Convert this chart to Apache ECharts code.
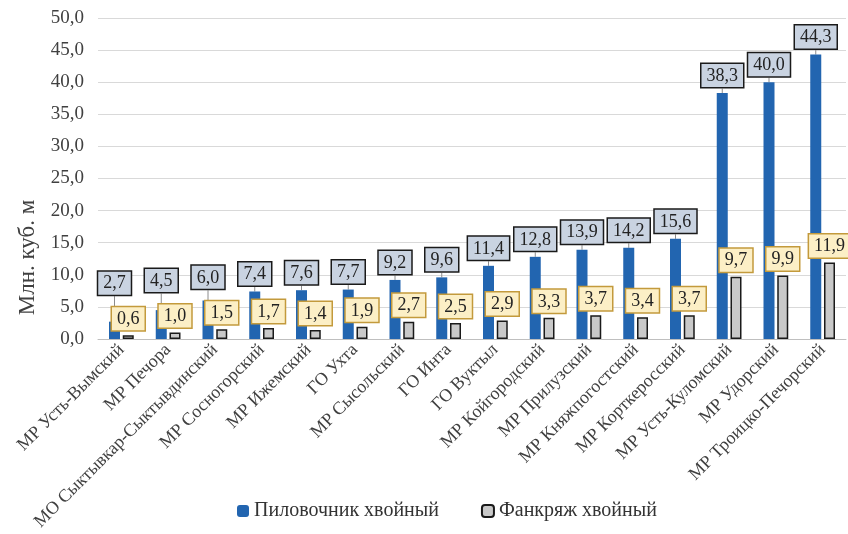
<!DOCTYPE html>
<html>
<head>
<meta charset="utf-8">
<script src="https://cdn.jsdelivr.net/npm/echarts@6/dist/echarts.min.js"></script>
<style>
  html, body { margin: 0; padding: 0; background: #fff; }
  #chart { width: 848px; height: 534px; }
</style>
</head>
<body>
<div id="chart"></div>
<script>
const categories = [
  'МР Усть-Вымский', 'МР Печора', 'МО Сыктывкар-Сыктывдинский', 'МР Сосногорский',
  'МР Ижемский', 'ГО Ухта', 'МР Сысольский', 'ГО Инта', 'ГО Вуктыл',
  'МР Койгородский', 'МР Прилузский', 'МР Княжпогостский', 'МР Корткеросский',
  'МР Усть-Куломский', 'МР Удорский', 'МР Троицко-Печорский'
]
const sawlogs = [2.7, 4.5, 6.0, 7.4, 7.6, 7.7, 9.2, 9.6, 11.4, 12.8, 13.9, 14.2, 15.6, 38.3, 40.0, 44.3]
const veneerLogs = [0.6, 1.0, 1.5, 1.7, 1.4, 1.9, 2.7, 2.5, 2.9, 3.3, 3.7, 3.4, 3.7, 9.7, 9.9, 11.9]

const font = "'Liberation Serif', 'Times New Roman', serif"
const fmt = (p) => p.value.toFixed(1).replace('.', ',')

const chart = echarts.init(document.getElementById('chart'))

// lift the blue label above the yellow one when they would collide
function liftBlue(params) {
  const i = params.dataIndex
  const h = params.labelRect.height
  const grayTop = chart.convertToPixel({ seriesIndex: 1 }, [i, veneerLogs[i]])[1]
  const yellowTop = grayTop - 5 - h
  const bottom = params.labelRect.y + h
  const limit = yellowTop - 8
  return { dy: bottom > limit ? limit - bottom : 0 }
}

const option = {
  animation: false,
  grid: { left: 98, right: 2, top: 18, bottom: 195 },
  legend: {
    bottom: 8,
    left: 232,
    itemWidth: 12,
    itemHeight: 12,
    itemGap: 42,
    textStyle: { fontFamily: font, fontSize: 20, color: '#333' },
    data: ['Пиловочник хвойный', 'Фанкряж хвойный']
  },
  xAxis: {
    type: 'category',
    data: categories,
    axisTick: { show: false },
    axisLine: { lineStyle: { color: '#bfbfbf' } },
    axisLabel: { rotate: 45, interval: 0, fontFamily: font, fontSize: 18, color: '#404040', margin: 8 }
  },
  yAxis: {
    type: 'value',
    min: 0,
    max: 50,
    interval: 5,
    name: 'Млн. куб. м',
    nameLocation: 'middle',
    nameGap: 58,
    nameTextStyle: { fontFamily: font, fontSize: 23, color: '#404040', padding: [0, 158, 0, 0] },
    axisLabel: { fontFamily: font, fontSize: 19, color: '#404040', margin: 14, formatter: (v) => v.toFixed(1).replace('.', ',') },
    splitLine: { lineStyle: { color: '#d9d9d9', width: 1.2 } }
  },
  series: [
    {
      name: 'Пиловочник хвойный',
      type: 'bar',
      data: sawlogs,
      barWidth: 11,
      barGap: '25%',
      itemStyle: { color: '#2265b0' },
      label: {
        show: true,
        position: 'top',
        distance: 6,
        formatter: fmt,
        fontFamily: font,
        fontSize: 18,
        color: '#222',
        backgroundColor: '#c9d3e1',
        borderColor: '#1a1a1a',
        borderWidth: 1.5,
        padding: [3, 5, 2, 5]
      },
      labelLine: { show: true, lineStyle: { color: '#8c8c8c', width: 1 } },
      labelLayout: liftBlue
    },
    {
      name: 'Фанкряж хвойный',
      type: 'bar',
      data: veneerLogs,
      barWidth: 11,
      itemStyle: { color: '#c9c9c9', borderColor: '#1a1a1a', borderWidth: 1.5 },
      label: {
        show: true,
        position: 'top',
        distance: 5,
        formatter: fmt,
        fontFamily: font,
        fontSize: 18,
        color: '#222',
        backgroundColor: '#fcefc6',
        borderColor: '#c39a3c',
        borderWidth: 1.5,
        padding: [3, 5, 2, 5]
      }
    }
  ]
}
chart.setOption(option)
</script>
</body>
</html>
